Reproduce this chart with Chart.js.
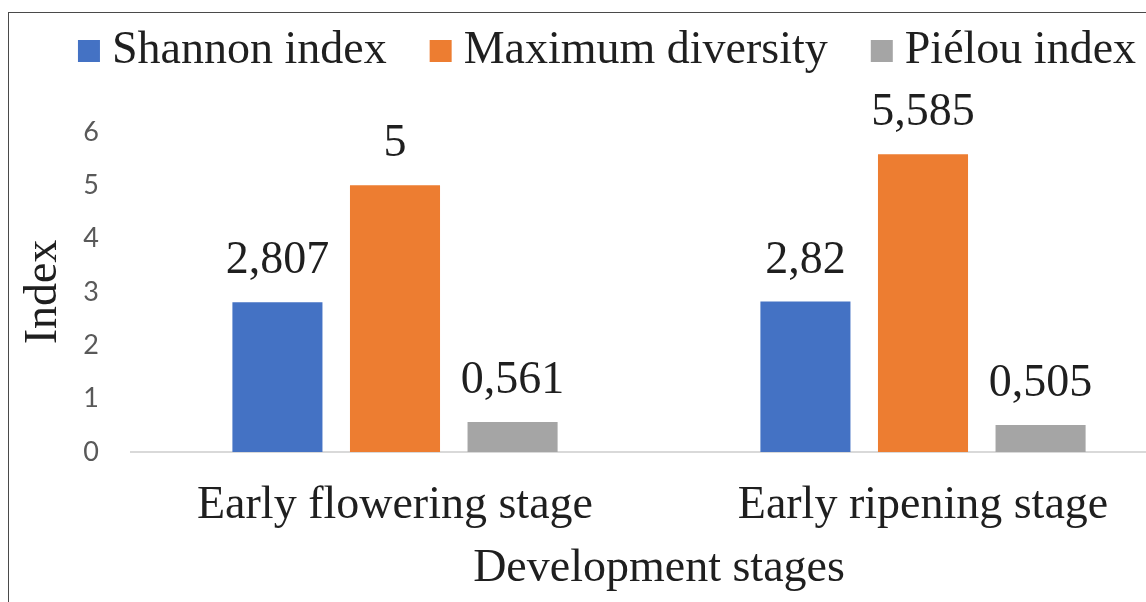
<!DOCTYPE html>
<html>
<head>
<meta charset="utf-8">
<script src="https://cdn.jsdelivr.net/npm/chart.js@4/dist/chart.umd.min.js"></script>
<style>
  html, body { margin: 0; padding: 0; background: #fff; overflow: hidden; width: 1146px; height: 602px; }
  #frame { position: absolute; left: 8px; top: 12px; border-top: 1px solid #4a4a4a; border-left: 1px solid #4a4a4a; width: 1400px; height: 600px; }
  #chart { display: block; }
</style>
</head>
<body>
<div id="frame"><canvas id="chart" width="1178" height="589"></canvas></div>
<script>
// Development stages and the diversity indices measured at each
const stages = ['Early flowering stage', 'Early ripening stage'];
const seriesNames = ['Shannon index', 'Maximum diversity', 'Piélou index'];
const shannon = [2.807, 2.82];
const maxDiversity = [5, 5.585];
const pielou = [0.561, 0.505];
const seriesColors = ['#4472C4', '#ED7D31', '#A5A5A5'];
const yMin = 0, yMax = 6, yStep = 1;

const SERIF = '"Liberation Serif", "Times New Roman", serif';
const TEXT = '#1f1f1f';

// value labels above each bar, decimal comma
const valueLabels = {
  id: 'valueLabels',
  afterDatasetsDraw(chart) {
    const ctx = chart.ctx;
    ctx.save();
    ctx.font = '46px ' + SERIF;
    ctx.fillStyle = TEXT;
    ctx.textAlign = 'center';
    ctx.textBaseline = 'alphabetic';
    chart.data.datasets.forEach((ds, di) => {
      chart.getDatasetMeta(di).data.forEach((bar, i) => {
        const txt = String(ds.data[i]).replace('.', ',');
        ctx.fillText(txt, bar.x, bar.y - 29);
      });
    });
    ctx.restore();
  }
};

// legend row across the top: square swatch, then the series name
const topLegend = {
  id: 'topLegend',
  afterDraw(chart) {
    const ctx = chart.ctx;
    const box = 22, gap = 12, spacing = 43, centerX = 598;
    ctx.save();
    ctx.font = '46px ' + SERIF;
    ctx.textBaseline = 'alphabetic';
    ctx.textAlign = 'left';
    const items = chart.data.datasets.map(ds => ({ text: ds.label, color: ds.backgroundColor, w: ctx.measureText(ds.label).width }));
    const total = items.reduce((s, it) => s + box + gap + it.w, 0) + spacing * (items.length - 1);
    let x = centerX - total / 2;
    items.forEach(it => {
      ctx.fillStyle = it.color;
      ctx.fillRect(x, 27, box, box);
      ctx.fillStyle = TEXT;
      ctx.fillText(it.text, x + box + gap, 50);
      x += box + gap + it.w + spacing;
    });
    ctx.restore();
  }
};

new Chart(document.getElementById('chart'), {
  type: 'bar',
  data: {
    labels: stages,
    datasets: [
      { label: seriesNames[0], data: shannon, backgroundColor: seriesColors[0] },
      { label: seriesNames[1], data: maxDiversity, backgroundColor: seriesColors[1] },
      { label: seriesNames[2], data: pielou, backgroundColor: seriesColors[2] }
    ]
  },
  options: {
    responsive: false,
    animation: false,
    devicePixelRatio: 1,
    layout: { padding: { top: 119, left: 0, right: 0, bottom: 0 } },
    datasets: { bar: { categoryPercentage: 0.668, barPercentage: 0.766, borderWidth: 0 } },
    plugins: {
      legend: { display: false },
      tooltip: { enabled: false }
    },
    scales: {
      x: {
        grid: { display: false, drawTicks: false },
        border: { display: true, color: '#d9d9d9', width: 2 },
        ticks: { color: TEXT, font: { family: SERIF, size: 46 }, padding: 26, maxRotation: 0 },
        title: { display: true, text: 'Development stages', color: TEXT, font: { family: SERIF, size: 46 }, padding: { top: 0, bottom: 5 } },
        afterFit(scale) { scale.height = 150; }
      },
      y: {
        min: yMin,
        max: yMax,
        ticks: { stepSize: yStep, color: '#595959', font: { family: 'Lato, "Open Sans", sans-serif', size: 27 }, padding: 32 },
        grid: { display: false, drawTicks: false },
        border: { display: false },
        title: { display: true, text: 'Index', color: TEXT, font: { family: SERIF, size: 46 }, padding: { top: 7, bottom: 0 } },
        afterFit(scale) { scale.width = 122; }
      }
    }
  },
  plugins: [valueLabels, topLegend]
});
</script>
</body>
</html>
